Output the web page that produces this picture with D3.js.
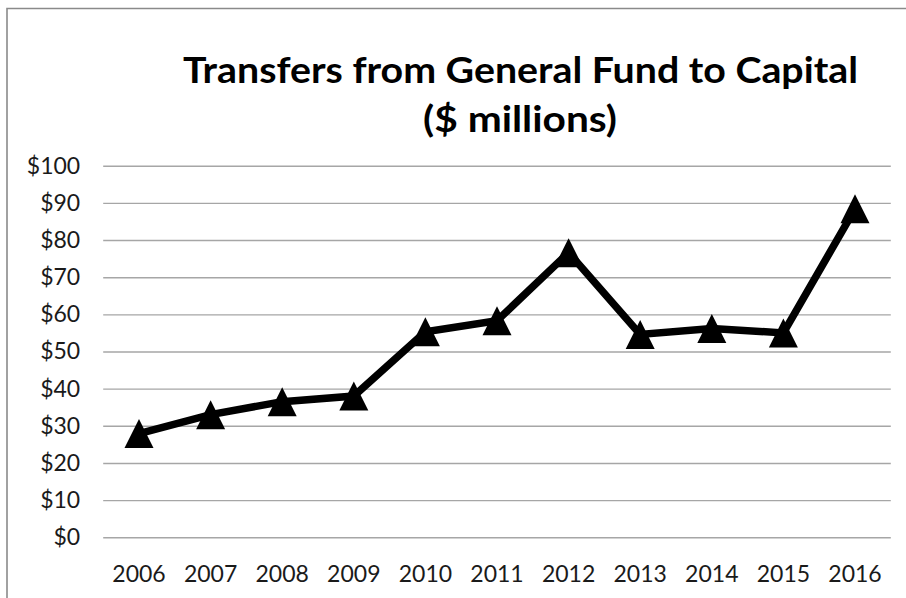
<!DOCTYPE html>
<html><head><meta charset="utf-8">
<script src="https://cdn.jsdelivr.net/npm/d3@7"></script>
<style>html,body{margin:0;padding:0;background:#fff;}svg{display:block;}</style>
</head><body>
<script>
const years = ["2006","2007","2008","2009","2010","2011","2012","2013","2014","2015","2016"];
const transfers = [27.9, 33.0, 36.5, 38.0, 55.3, 58.3, 76.6, 54.6, 56.2, 55.0, 88.4];
const yTicks = [0,10,20,30,40,50,60,70,80,90,100];
const titleLines = ["Transfers from General Fund to Capital", "($ millions)"];

(function(){
const W = 906, H = 598;
const svg = d3.select("body").append("svg").attr("width", W).attr("height", H);
svg.append("rect").attr("width", W).attr("height", H).attr("fill", "#fff");
svg.append("path").attr("d", `M7,${H+2} L7,8.5 L${W+2},8.5`).attr("fill","none")
  .attr("stroke","#8a8a8a").attr("stroke-width",1.6);

const pLeft = 103.2, pRight = 890.8, pTop = 165.7, pBottom = 537.3;
const x = d3.scaleBand().domain(years).range([pLeft, pRight]);
const y = d3.scaleLinear().domain([0,100]).range([pBottom, pTop]);
const font = "Lato, 'Open Sans', sans-serif";

const yAxis = d3.axisLeft(y).tickValues(yTicks).tickSize(-(pRight-pLeft)).tickPadding(23)
  .tickFormat(d => "$" + d);
const gy = svg.append("g").attr("transform", `translate(${pLeft},0)`).call(yAxis);
gy.select(".domain").remove();
gy.selectAll(".tick line").attr("stroke", "#a6a6a6").attr("stroke-width", 1.4);
gy.selectAll(".tick text").attr("font-family", font).attr("font-size", 23).attr("fill", "#1a1a1a");

const xAxis = d3.axisBottom(x).tickSize(0).tickPadding(28);
const gx = svg.append("g").attr("transform", `translate(0,${pBottom})`).call(xAxis);
gx.select(".domain").remove();
gx.selectAll(".tick text").attr("font-family", font).attr("font-size", 23).attr("fill", "#1a1a1a");

const title = svg.append("g").attr("font-family", font).attr("font-weight", "bold")
  .attr("font-size", 36).attr("text-anchor", "middle").attr("fill", "#000");
title.append("text").attr("x", 520.5).attr("y", 82.5)
  .attr("textLength", 675).attr("lengthAdjust", "spacingAndGlyphs").text(titleLines[0]);
title.append("text").attr("x", 520).attr("y", 132)
  .attr("textLength", 194).attr("lengthAdjust", "spacingAndGlyphs").text(titleLines[1]);

const cx = d => x(d) + x.bandwidth()/2;
const line = d3.line().x((d,i) => cx(years[i])).y(d => y(d));
svg.append("path").datum(transfers).attr("d", line).attr("fill","none")
  .attr("stroke","#000").attr("stroke-width",7.5).attr("stroke-linejoin","miter");

const tri = 29;
svg.append("g").selectAll("path").data(transfers).join("path")
  .attr("d", (d,i) => {
    const px = cx(years[i]), py = y(d);
    return `M${px},${py - tri/2} L${px + tri/2},${py + tri/2} L${px - tri/2},${py + tri/2} Z`;
  }).attr("fill", "#000");
})();
</script>
</body></html>
